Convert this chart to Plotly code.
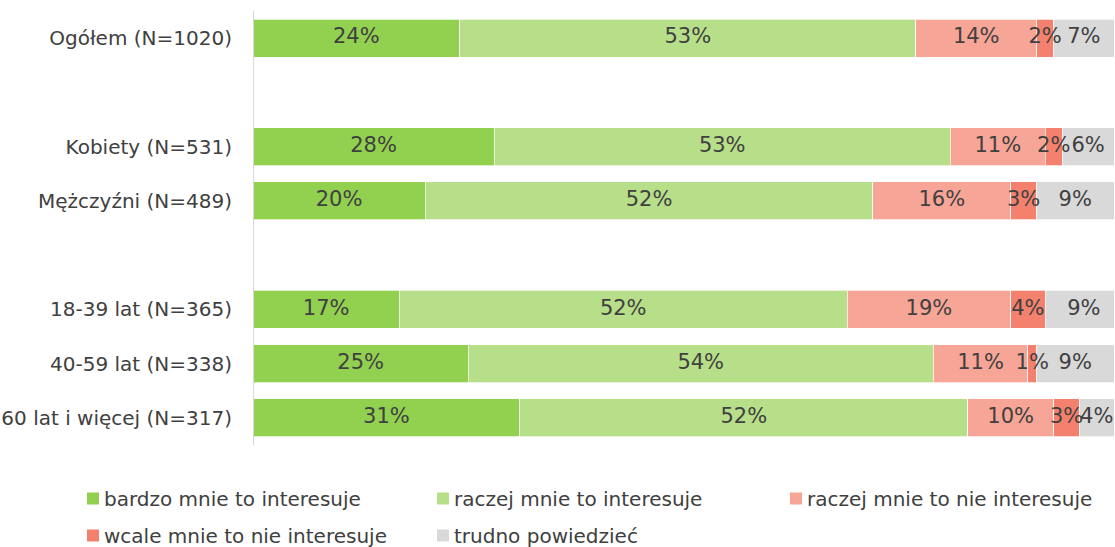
import plotly.graph_objects as go

# Row labels top to bottom; blank entries are spacer rows between groups
categories = [
    "Ogółem (N=1020)",
    "",
    "Kobiety (N=531)",
    "Mężczyźni (N=489)",
    " ",
    "18-39 lat (N=365)",
    "40-59 lat (N=338)",
    "60 lat i więcej (N=317)",
]

series_names = [
    "bardzo mnie to interesuje",
    "raczej mnie to interesuje",
    "raczej mnie to nie interesuje",
    "wcale mnie to nie interesuje",
    "trudno powiedzieć",
]

bardzo = [24, None, 28, 20, None, 17, 25, 31]
raczej = [53, None, 53, 52, None, 52, 54, 52]
raczej_nie = [14, None, 11, 16, None, 19, 11, 10]
wcale_nie = [2, None, 2, 3, None, 4, 1, 3]
trudno = [7, None, 6, 9, None, 9, 9, 4]

values = [bardzo, raczej, raczej_nie, wcale_nie, trudno]
colors = ["#92D050", "#B7DE88", "#F7A597", "#F4806E", "#D9D9D9"]

TEXT = "#404040"
FONT = "'DejaVu Sans', sans-serif"
FS = 20        # axis and legend labels
FS_VAL = 21    # percentage labels

fig = go.Figure()
for name, vals, col in zip(series_names, values, colors):
    fig.add_trace(go.Bar(
        y=categories,
        x=vals,
        name=name,
        orientation="h",
        marker=dict(color=col, line=dict(color="rgba(255,255,255,0.7)", width=1)),
        showlegend=False,
        hoverinfo="skip",
    ))

# Percentage labels centred on each segment, drawn above all bars
offsets = [0] * len(categories)
for vals in values:
    xs, ys, txt = [], [], []
    for i, v in enumerate(vals):
        if v is None:
            continue
        xs.append(offsets[i] + v / 2)
        ys.append(categories[i])
        txt.append(f"{v}%")
        offsets[i] += v
    fig.add_trace(go.Scatter(
        x=xs, y=ys, text=txt, mode="text",
        textposition="middle center",
        textfont=dict(color=TEXT, size=FS_VAL, family=FONT),
        showlegend=False, hoverinfo="skip", cliponaxis=False,
    ))

fig.update_layout(
    barmode="stack",
    bargap=0.30,
    width=1115,
    height=547,
    margin=dict(l=253, r=1, t=11, b=102),
    paper_bgcolor="white",
    plot_bgcolor="white",
    font=dict(family=FONT, color=TEXT, size=FS),
    xaxis=dict(range=[0, 100], visible=False, fixedrange=True),
    yaxis=dict(
        autorange="reversed",
        showgrid=False,
        zeroline=False,
        showline=False,
        ticks="",
        ticklabelstandoff=20,
        tickfont=dict(size=FS, color=TEXT, family=FONT),
        categoryorder="array",
        categoryarray=categories,
    ),
    shapes=[dict(type="line", xref="x", yref="paper", x0=0, x1=0, y0=0, y1=1,
                 line=dict(color="#D9D9D9", width=2), layer="above")],
)

# Legend drawn as colour squares with labels in two rows (pixel positions)
legend_x = [87, 437, 790, 87, 437]
legend_y = [498.5, 498.5, 498.5, 535.5, 535.5]
PX0, PW, PY1, PH = 253, 1115 - 254, 445, 434


def px(x):
    return (x - PX0) / PW


def py(y):
    return (PY1 - y) / PH


for name, col, lx, ly in zip(series_names, colors, legend_x, legend_y):
    fig.add_shape(type="rect", xref="paper", yref="paper",
                  x0=px(lx), x1=px(lx + 12), y0=py(ly + 6), y1=py(ly - 6),
                  fillcolor=col, line=dict(width=0))
    fig.add_annotation(text=name, xref="paper", yref="paper",
                       x=px(lx + 15), y=py(ly),
                       xanchor="left", yanchor="middle", showarrow=False,
                       font=dict(size=FS, color=TEXT, family=FONT))

fig.write_html("out.html")
